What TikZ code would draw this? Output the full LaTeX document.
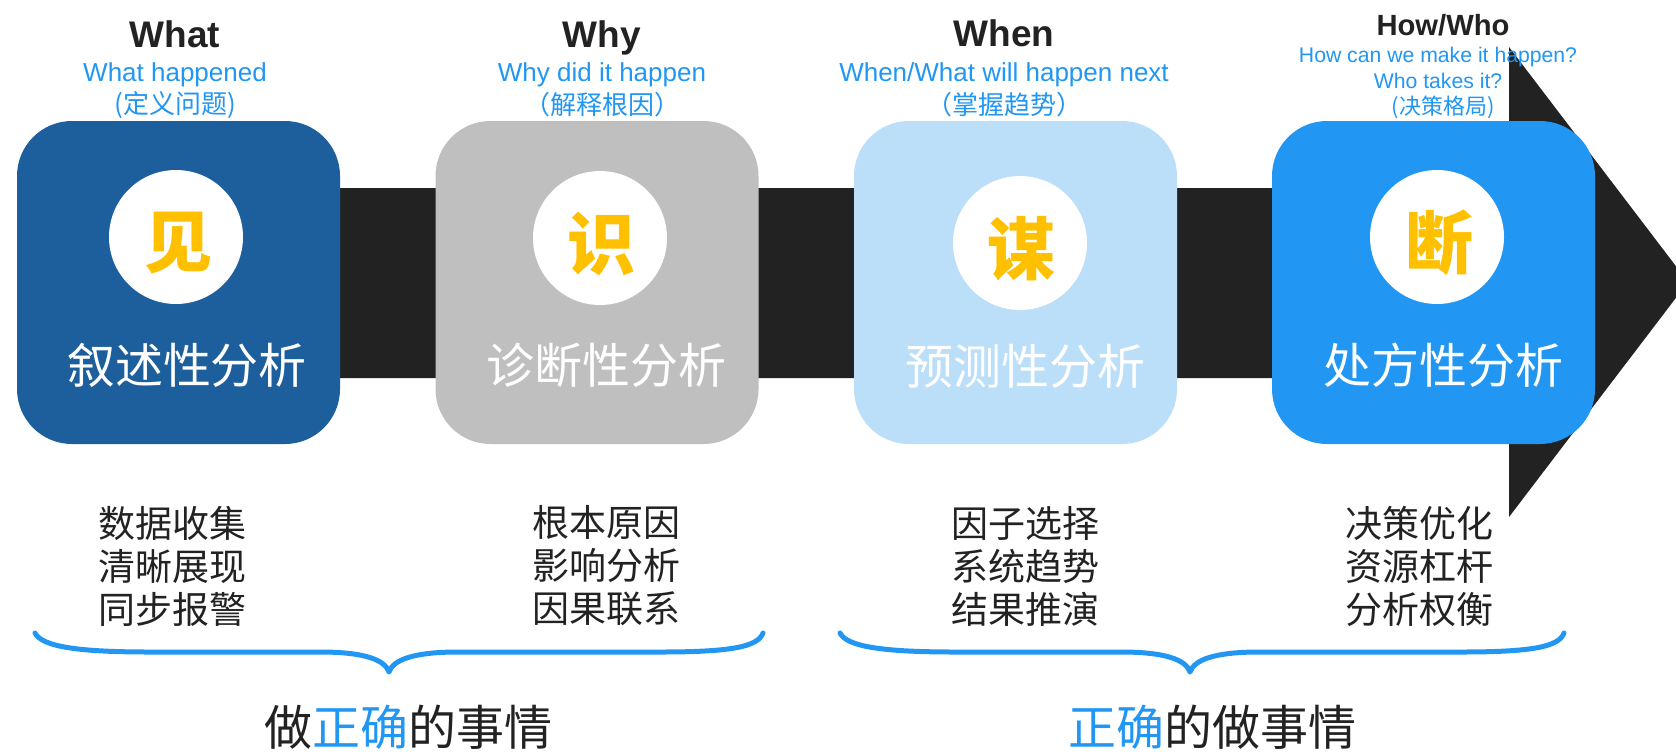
\documentclass[tikz,border=0pt]{standalone}
\usepackage{fontspec}
\setmainfont{Liberation Sans}
\newfontfamily\cjk{Noto Sans CJK SC}
\definecolor{boxA}{HTML}{1D5F9D}
\definecolor{boxB}{HTML}{BFBFBF}
\definecolor{boxC}{HTML}{BBDEF9}
\definecolor{boxD}{HTML}{2196F3}
\definecolor{accent}{HTML}{2196F3}
\definecolor{barc}{HTML}{222222}
\definecolor{gold}{HTML}{FFC000}
\definecolor{ink}{HTML}{222222}
\tikzset{
  stagebox/.style={rectangle, rounded corners=27.5pt, minimum width=161.5pt, minimum height=161.5pt, inner sep=0pt, draw=none},
  badge/.style={circle, fill=white, minimum size=67pt, inner sep=0pt},
  badgetext/.style={inner sep=0pt, text=gold, font=\cjk\bfseries\fontsize{34}{34}\selectfont},
  stagelabel/.style={text=white, font=\cjk\fontsize{24}{24}\selectfont, inner sep=0pt},
  head/.style={font=\bfseries\fontsize{18.5}{18.5}\selectfont, text=ink, inner sep=0pt, anchor=base},
  headsmall/.style={font=\bfseries\fontsize{14.6}{14.6}\selectfont, text=ink, inner sep=0pt, anchor=base},
  sub/.style={font=\fontsize{13}{13}\selectfont, text=accent, inner sep=0pt, anchor=base},
  subsmall/.style={font=\fontsize{10.6}{10.6}\selectfont, text=accent, inner sep=0pt, anchor=base},
  subcjk/.style={font=\cjk\fontsize{13}{13}\selectfont, text=accent, inner sep=0pt},
  subcjksmall/.style={font=\cjk\fontsize{11}{11}\selectfont, text=accent, inner sep=0pt},
  itemlist/.style={font=\cjk\fontsize{18.5}{21.5}\selectfont, text=ink, align=center, inner sep=0pt},
  motto/.style={font=\cjk\fontsize{24}{24}\selectfont, text=ink, inner sep=0pt},
  bracec/.style={draw=accent, line width=2.5pt, line cap=round, line join=round},
}
\begin{document}
\begin{tikzpicture}[x=0.5pt,y=-0.5pt]
\useasboundingbox (0,0) rectangle (1676,751);
\clip (0,0) rectangle (1676,751);
% bar with arrow head
\fill[barc] (178,188) -- (1509,188) -- (1509,47) -- (1688,282) -- (1509,517) -- (1509,378) -- (178,378) -- cycle;
% stage boxes
\node[stagebox, fill=boxA] (box1) at (178.5,282.5) {};
\node[stagebox, fill=boxB] (box2) at (597,282.5) {};
\node[stagebox, fill=boxC] (box3) at (1015.5,282.5) {};
\node[stagebox, fill=boxD] (box4) at (1433.5,282.5) {};
% badges
\node[badge] (c1) at (176,237) {};
\node[badge] (c2) at (600,238) {};
\node[badge] (c3) at (1020,243) {};
\node[badge] (c4) at (1437,237) {};
\node[badgetext] (g1) at (178,243) {见};
\node[badgetext] (g2) at (601,244) {识};
\node[badgetext] (g3) at (1021,249) {谋};
\node[badgetext] (g4) at (1439,243) {断};
% stage labels
\node[stagelabel] (l1) at (187,365) {叙述性分析};
\node[stagelabel] (l2) at (606,365) {诊断性分析};
\node[stagelabel] (l3) at (1025,366) {预测性分析};
\node[stagelabel] (l4) at (1443,365) {处方性分析};
% headers
\node[head] (h1) at (175,47) {What};
\node[head] (h2) at (602,47) {Why};
\node[head] (h3) at (1004,46.5) {When};
\node[headsmall] (h4) at (1443,35) {How/Who};
\node[sub] (s1) at (175,81) {What happened};
\node[sub] (s2) at (602,81) {Why did it happen};
\node[sub] (s3) at (1004,81) {When/What will happen next};
\node[subsmall] (s4a) at (1438,62) {How can we make it happen?};
\node[subsmall] (s4b) at (1438,88) {Who takes it?};
\node[subcjk] (p1) at (175,105) {(定义问题)};
\node[subcjk] (p2) at (602,105) {（解释根因）};
\node[subcjk] (p3) at (1004,105) {（掌握趋势）};
\node[subcjksmall] (p4) at (1443,107) {(决策格局)};
% lists
\node[itemlist] (k1) at (172,566) {数据收集\\清晰展现\\同步报警};
\node[itemlist] (k2) at (606,566) {根本原因\\影响分析\\因果联系};
\node[itemlist] (k3) at (1025,566) {因子选择\\系统趋势\\结果推演};
\node[itemlist] (k4) at (1419,566) {决策优化\\资源杠杆\\分析权衡};
% braces
\draw[bracec] (35,633) .. controls (42,647) and (80,652) .. (150,652) -- (320,652) .. controls (365,652) and (385,660) .. (389,672) .. controls (393,660) and (413,652) .. (458,652) -- (660,652) .. controls (730,652) and (758,647) .. (763,633);
\draw[bracec] (840,633) .. controls (847,647) and (885,652) .. (955,652) -- (1121,652) .. controls (1166,652) and (1186,660) .. (1190,672) .. controls (1194,660) and (1214,652) .. (1259,652) -- (1461,652) .. controls (1531,652) and (1559,647) .. (1564,633);
% mottos
\node[motto] (m1) at (408,727) {做{\color{accent}正确}的事情};
\node[motto] (m2) at (1212,727) {{\color{accent}正确}的做事情};
\end{tikzpicture}
\end{document}
